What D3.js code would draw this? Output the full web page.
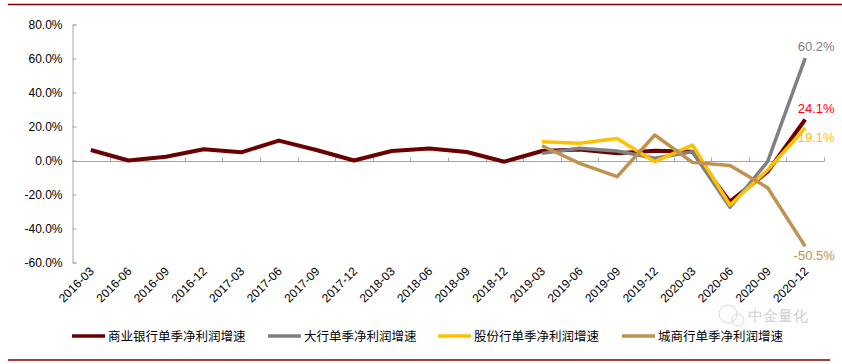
<!doctype html>
<html lang="zh">
<head>
<meta charset="utf-8">
<style>
  body { margin: 0; background: #fff; }
  svg text { font-family: "Liberation Sans", Arial, sans-serif; }
  .legend text { font-family: "Noto Sans CJK SC", sans-serif; }
</style>
</head>
<body>
<div id="chart"></div>
<script src="https://cdn.jsdelivr.net/npm/d3@7"></script>
<script>
var w = 842, h = 364;

// quarters
var quarters = ['2016-03','2016-06','2016-09','2016-12','2017-03','2017-06','2017-09','2017-12',
                '2018-03','2018-06','2018-09','2018-12','2019-03','2019-06','2019-09','2019-12',
                '2020-03','2020-06','2020-09','2020-12'];

// single-quarter net profit growth, %
var allBanks  = [6.2, 0.0, 2.2, 6.6, 4.8, 11.7, 6.2, 0.0, 5.6, 7.0, 5.0, -0.7,
                 5.6, 6.5, 4.2, 5.8, 5.2, -24.2, -6.6, 24.1];
var bigBanks  = [null, null, null, null, null, null, null, null, null, null, null, null,
                 4.2, 7.2, 5.6, 1.3, 5.2, -27.5, -0.7, 60.2];
var jointBanks = [null, null, null, null, null, null, null, null, null, null, null, null,
                 11.1, 10.1, 13.0, -0.7, 9.1, -26.2, -5.6, 19.1];
var cityBanks = [null, null, null, null, null, null, null, null, null, null, null, null,
                 8.7, -1.7, -9.5, 15.0, -1.1, -3.0, -16.0, -50.5];

var seriesNames = ['商业银行单季净利润增速', '大行单季净利润增速', '股份行单季净利润增速', '城商行单季净利润增速'];
var yTicks = [-60, -40, -20, 0, 20, 40, 60, 80];

var series = [
  {name: seriesNames[0], values: allBanks,  color: '#6B0000', label: '#FF0000', width: 4},
  {name: seriesNames[1], values: bigBanks,  color: '#808080', label: '#7F7F7F', width: 3.5},
  {name: seriesNames[2], values: jointBanks, color: '#FFC000', label: '#FFC000', width: 3.5},
  {name: seriesNames[3], values: cityBanks, color: '#C0914F', label: '#C0914F', width: 3.5}
];

var svg = d3.select('#chart').append('svg')
            .attr('width', w)
            .attr('height', h);

// frame lines top/bottom
svg.append('line').attr('x1', 8).attr('x2', 842).attr('y1', 4.5).attr('y2', 4.5)
   .attr('stroke', '#7F0000').attr('stroke-width', 1.5);
svg.append('line').attr('x1', 8).attr('x2', 830).attr('y1', 360).attr('y2', 360)
   .attr('stroke', '#7F0000').attr('stroke-width', 1.5);

var xScale = d3.scaleBand()
               .domain(quarters)
               .range([72, 824]);

var yScale = d3.scaleLinear()
               .domain([-60, 80])
               .range([262.5, 24.5]);

var cx = d => xScale(d) + xScale.bandwidth() / 2;

// y axis
var yAxis = d3.axisLeft(yScale)
              .tickValues(yTicks)
              .tickSize(-4)
              .tickFormat(d => d.toFixed(1) + '%');

var gy = svg.append('g')
   .attr('transform', 'translate(72.5,0)')
   .call(yAxis);
gy.select('.domain').attr('stroke', '#A6A6A6');
gy.selectAll('.tick line').attr('stroke', '#A6A6A6');
gy.selectAll('.tick text')
  .attr('x', -10)
  .attr('font-size', 12)
  .attr('fill', '#000');

// x axis along zero line, ticks at category boundaries
var y0 = Math.round(yScale(0)) + 0.5;
var gx = svg.append('g');
gx.append('line')
  .attr('x1', 72).attr('x2', 824)
  .attr('y1', y0).attr('y2', y0)
  .attr('stroke', '#A6A6A6');
gx.selectAll('.xtick')
  .data(quarters)
  .join('line')
  .attr('class', 'xtick')
  .attr('x1', d => Math.round(xScale(d) + xScale.bandwidth()) + 0.5)
  .attr('x2', d => Math.round(xScale(d) + xScale.bandwidth()) + 0.5)
  .attr('y1', y0 - 4)
  .attr('y2', y0)
  .attr('stroke', '#A6A6A6');

// x labels at the bottom, rotated
svg.append('g').selectAll('text')
  .data(quarters)
  .join('text')
  .attr('transform', d => `translate(${cx(d) + 4},${272}) rotate(-45)`)
  .attr('text-anchor', 'end')
  .attr('font-size', 12)
  .attr('fill', '#000')
  .text(d => d);

// lines
var line = d3.line()
             .defined(d => d[1] != null)
             .x(d => cx(d[0]))
             .y(d => yScale(d[1]));

series.forEach(s => {
  svg.append('path')
     .datum(quarters.map((q, i) => [q, s.values[i]]))
     .attr('fill', 'none')
     .attr('stroke', s.color)
     .attr('stroke-width', s.width)
     .attr('stroke-linejoin', 'round')
     .attr('d', line);
});

// end labels
var labelDy = [-6.5, -7.5, 14, 14];
var labelDx = [11, 11, 11, 9];
series.forEach((s, i) => {
  var last = s.values[s.values.length - 1];
  var yy = yScale(last);
  svg.append('text')
     .attr('x', cx(quarters[quarters.length - 1]) + labelDx[i])
     .attr('y', yy + labelDy[i])
     .attr('text-anchor', 'middle')
     .attr('font-size', 13)
     .attr('fill', s.label)
     .text(last.toFixed(1) + '%');
});

// legend
var legendX = [72, 268, 438, 622];
var lg = svg.append('g').attr('class', 'legend');
series.forEach((s, i) => {
  lg.append('line')
    .attr('x1', legendX[i]).attr('x2', legendX[i] + 33)
    .attr('y1', 336).attr('y2', 336)
    .attr('stroke', s.color)
    .attr('stroke-width', 3.5);
  lg.append('text')
    .attr('x', legendX[i] + 36)
    .attr('y', 340.5)
    .attr('font-size', 12.5)
    .attr('fill', '#000')
    .text(s.name);
});

// watermark (kept just above the legend row)
var wm = svg.append('g').attr('opacity', 0.55);
wm.append('circle').attr('cx', 728).attr('cy', 314).attr('r', 9)
  .attr('fill', 'none').attr('stroke', '#bbb').attr('stroke-width', 1);
wm.append('circle').attr('cx', 738).attr('cy', 320).attr('r', 6)
  .attr('fill', 'none').attr('stroke', '#bbb').attr('stroke-width', 1);
wm.append('text')
  .attr('x', 748).attr('y', 321)
  .attr('font-size', 14.5)
  .attr('font-family', '"Noto Sans CJK SC", sans-serif')
  .attr('fill', '#aaa')
  .text('中金量化');
</script>
</body>
</html>
